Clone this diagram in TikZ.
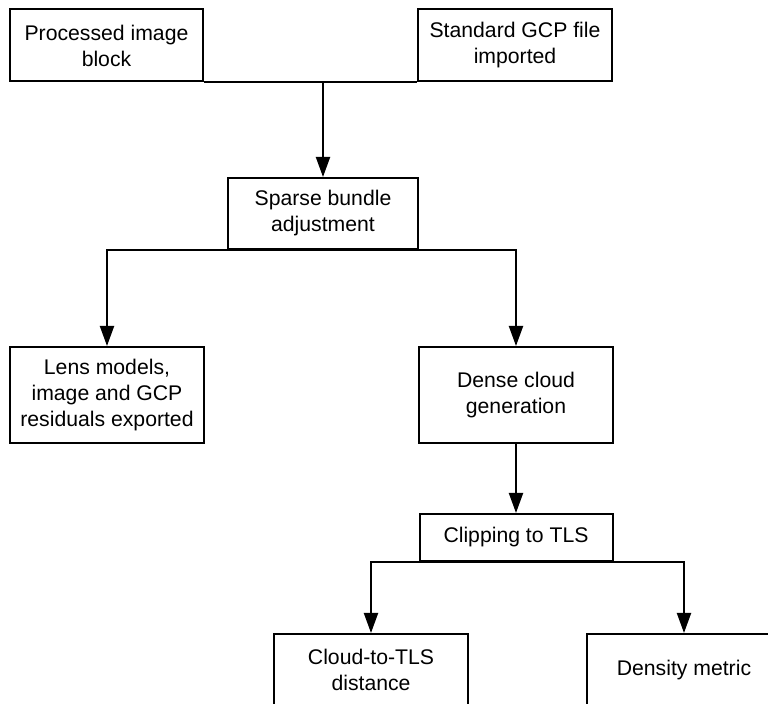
\documentclass[tikz,border=0pt]{standalone}
\usepackage{fontspec}
\setmainfont{Liberation Sans}
\usepackage{tikz}
\usetikzlibrary{arrows.meta,calc,positioning}

\begin{document}
\begin{tikzpicture}[x=0.5pt,y=-0.5pt,line width=1pt,
  box/.style={draw,rectangle,align=center,inner sep=0pt,font=\fontsize{10.6}{13}\selectfont},
  arr/.style={-{Triangle[length=10pt,width=7pt]}}]
  \useasboundingbox (0,0) rectangle (768,704); \clip (0,0) rectangle (768,704);
  % top row
  \node[box,minimum width=96.5pt,minimum height=36pt] (proc) at (106.5,45.5) {Processed image\\block};
  \node[box,minimum width=97pt,minimum height=36pt] (gcp) at (515,45.5) {Standard GCP file\\imported};
  \node[box,minimum width=95pt,minimum height=35.5pt] (sba) at (323,213.5) {Sparse bundle\\adjustment};
  % middle row
  \node[box,minimum width=97pt,minimum height=48pt] (lens) at (107,395) {Lens models,\\image and GCP\\residuals exported};
  \node[box,minimum width=97pt,minimum height=48pt] (dense) at (516,395) {Dense cloud\\generation};
  \node[box,minimum width=96.5pt,minimum height=23.5pt] (clip) at (516,537.5) {Clipping to TLS};
  % bottom row, cut by the page edge
  \node[box,minimum width=97pt,minimum height=36pt] (c2t) at (371,670) {Cloud-to-TLS\\distance};
  \node[box,minimum width=97pt,minimum height=36pt] (dens) at (684,670) {Density metric};
  % connectors
  \draw (proc.south east) -- (gcp.south west);
  \coordinate (join) at (sba.north |- proc.south);
  \draw[arr] (join) -- (sba.north);
  \draw[arr] (sba.south) -| (lens.north); \draw[arr] (sba.south) -| (dense.north);
  \draw[arr] (dense.south) -- (clip.north);
  \draw[arr] (clip.south) -| (c2t.north); \draw[arr] (clip.south) -| (dens.north);
\end{tikzpicture}
\end{document}
